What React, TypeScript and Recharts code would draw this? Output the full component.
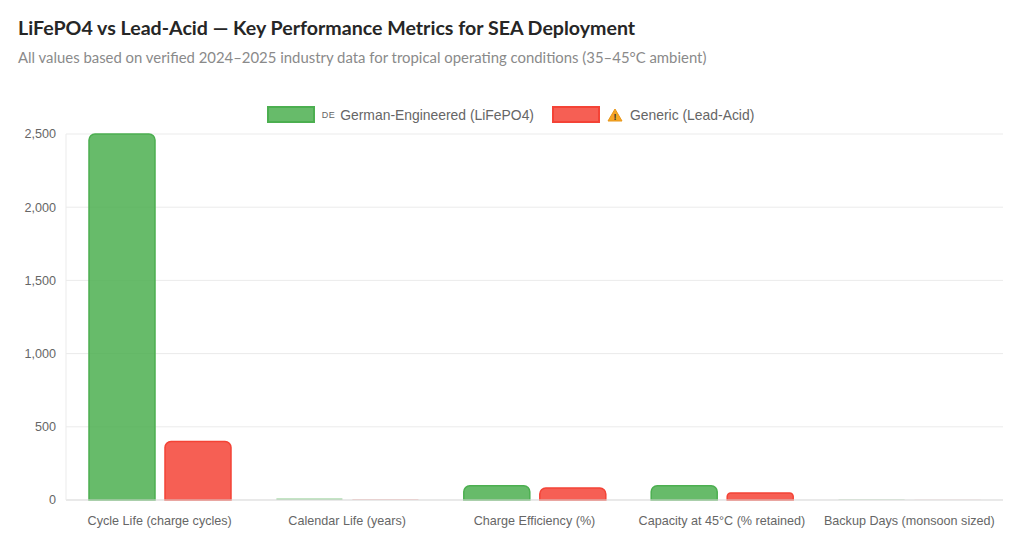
import { BarChart, Bar, XAxis, YAxis, CartesianGrid, Rectangle } from "recharts";

const categories = [
  "Cycle Life (charge cycles)",
  "Calendar Life (years)",
  "Charge Efficiency (%)",
  "Capacity at 45°C (% retained)",
  "Backup Days (monsoon sized)",
];
const lifepo4 = [2500, 12, 97, 97, 3];
const leadAcid = [400, 4, 82, 48, 1];
const yTicks = [0, 500, 1000, 1500, 2000, 2500];

const data = categories.map((name, i) => ({
  name,
  lifepo4: lifepo4[i],
  leadAcid: leadAcid[i],
}));

const GREEN_FILL = "rgba(76,175,80,0.85)";
const GREEN_LINE = "#4caf50";
const RED_FILL = "rgba(244,67,54,0.85)";
const RED_LINE = "#f44336";

// very short bars lose their border, like the original
const BarShape = (props: any) => {
  if (props.height < 4) {
    return <rect x={props.x} y={props.y} width={props.width} height={props.height} fill={props.fill} fillOpacity={0.5} />;
  }
  return <Rectangle {...props} />;
};

const WarnIcon = () => (
  <svg width={16} height={14} viewBox="0 0 16 14" style={{ marginRight: 7 }}>
    <path d="M8 1 L15 13 L1 13 Z" fill="#f6a623" stroke="#e8961a" strokeWidth={1} strokeLinejoin="round" />
    <text x={8} y={11.5} textAnchor="middle" fontSize={9} fontWeight={700} fill="#333" fontFamily="Liberation Sans, Arial">
      !
    </text>
  </svg>
);

function LegendItem({ fill, stroke, icon, label }: { fill: string; stroke: string; icon: React.ReactNode; label: string }) {
  return (
    <div style={{ display: "flex", alignItems: "center", marginRight: 18 }}>
      <span
        style={{
          display: "inline-block",
          width: 44,
          height: 13,
          background: fill,
          border: `2px solid ${stroke}`,
          marginRight: 7,
        }}
      />
      {icon}
      <span>{label}</span>
    </div>
  );
}

export default function App() {
  return (
    <div
      style={{
        position: "fixed",
        left: 0,
        top: 0,
        width: 1024,
        height: 549,
        background: "#fff",
        fontFamily: "'Liberation Sans', Arial, sans-serif",
      }}
    >
      <div
        style={{
          position: "absolute",
          left: 18,
          top: 16,
          fontFamily: "Lato, sans-serif",
          fontWeight: 700,
          fontSize: 19.6,
          color: "#262626",
        }}
      >
        LiFePO4 vs Lead-Acid — Key Performance Metrics for SEA Deployment
      </div>
      <div
        style={{
          position: "absolute",
          left: 18,
          top: 48,
          fontFamily: "Lato, sans-serif",
          fontSize: 14.9,
          color: "#8a8a8a",
        }}
      >
        All values based on verified 2024–2025 industry data for tropical operating conditions (35–45°C ambient)
      </div>
      <div
        style={{
          position: "absolute",
          left: 0,
          width: 1024,
          top: 106,
          display: "flex",
          justifyContent: "center",
          fontSize: 13.9,
          color: "#666",
        }}
      >
        <div style={{ display: "flex", marginLeft: 15 }}>
          <LegendItem
            fill={GREEN_FILL}
            stroke={GREEN_LINE}
            icon={<span style={{ fontSize: 9, marginRight: 5, letterSpacing: 0.5 }}>DE</span>}
            label="German-Engineered (LiFePO4)"
          />
          <LegendItem fill={RED_FILL} stroke={RED_LINE} icon={<WarnIcon />} label="Generic (Lead-Acid)" />
        </div>
      </div>
      <div style={{ position: "absolute", left: 0, top: 0 }}>
        <BarChart
          width={1024}
          height={549}
          data={data}
          margin={{ top: 134, right: 21, bottom: 19, left: 11 }}
          barCategoryGap={23}
          barGap={10}
        >
          <CartesianGrid stroke="#ebebeb" vertical={false} />
          <XAxis
            dataKey="name"
            interval={0}
            height={30}
            tick={{ fontSize: 12.6, fill: "#666" }}
            tickLine={false}
            axisLine={{ stroke: "#ddd" }}
            tickMargin={10}
          />
          <YAxis
            width={55}
            domain={[0, 2500]}
            ticks={yTicks}
            tickFormatter={(v: number) => v.toLocaleString("en-US")}
            tick={{ fontSize: 12.6, fill: "#666" }}
            tickLine={false}
            axisLine={{ stroke: "#ebebeb" }}
            tickMargin={4}
          />
          <Bar
            dataKey="lifepo4"
            fill={GREEN_FILL}
            stroke={GREEN_LINE}
            strokeWidth={1.5}
            radius={[6, 6, 0, 0]}
            shape={BarShape}
            isAnimationActive={false}
          />
          <Bar
            dataKey="leadAcid"
            fill={RED_FILL}
            stroke={RED_LINE}
            strokeWidth={1.5}
            radius={[6, 6, 0, 0]}
            shape={BarShape}
            isAnimationActive={false}
          />
        </BarChart>
      </div>
    </div>
  );
}
